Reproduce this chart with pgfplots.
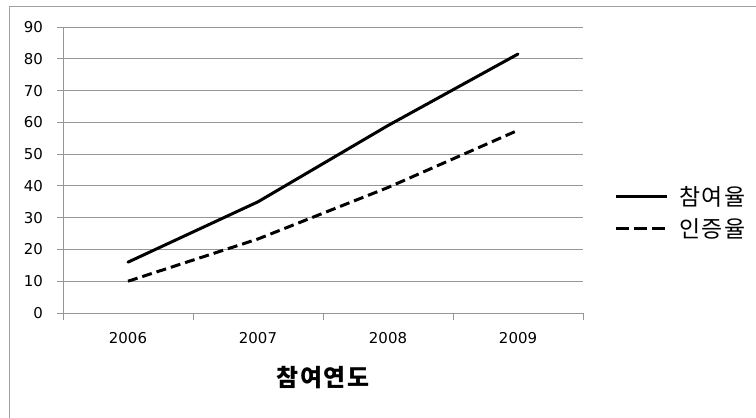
\documentclass[border=0pt]{standalone}
\usepackage{fontspec}
\setmainfont{DejaVu Sans}
\newfontfamily\kr{Noto Sans CJK KR}
\newfontfamily\krlegend[LetterSpace=6]{Noto Sans CJK KR}
\newfontfamily\krlabel[LetterSpace=8]{Noto Sans CJK KR}
\usepackage{pgfplots}
\pgfplotsset{compat=1.18}

\definecolor{gridgray}{RGB}{150,150,150}
\definecolor{framegray}{RGB}{160,160,160}

\begin{document}
\begin{tikzpicture}[x=1bp,y=1bp]
	\useasboundingbox (0,0) rectangle (756,417);
	% outer chart frame (only left and top edges are visible)
	\draw[framegray, line width=1bp] (9,-5) -- (9,410) -- (760,410);
	\begin{axis}[
		at={(63bp,104bp)}, anchor=south west,
		scale only axis,
		width=520bp, height=286bp,
		xmin=-0.5, xmax=3.5,
		ymin=0, ymax=90,
		axis x line=bottom, axis y line=left,
		axis line style={gridgray, line width=0.9bp, -},
		xtick={0,1,2,3},
		xticklabels={2006,2007,2008,2009},
		minor xtick={-0.5,0.5,1.5,2.5,3.5},
		ytick={0,10,...,90},
		tick align=outside,
		major tick length=6bp,
		minor tick length=7bp,
		tick style={gridgray, line width=0.9bp},
		major x tick style={draw=none},
		ymajorgrids=true,
		grid style={gridgray, line width=0.9bp},
		/pgf/number format/assume math mode=true,
		ticklabel style={font=\fontsize{15}{17}\selectfont, inner sep=0pt},
		yticklabel style={xshift=-14bp},
		xticklabel style={yshift=-13bp},
		xlabel={\krlabel\bfseries 참여연도},
		x label style={at={(axis description cs:0.5,-0.227)}, anchor=center,
			font=\fontsize{24}{26}\selectfont},
		legend style={at={(1.06,0.351)}, anchor=west, draw=none, fill=none,
			inner sep=0pt, row sep=12bp,
			font=\fontsize{23}{25}\selectfont\krlegend,
			nodes={inner sep=0pt, anchor=west}},
		legend cell align=left,
		% sample line plus the blank gap before the entry text
		legend image code/.code={\draw[#1] (0bp,0bp) -- (51bp,0bp); \path (62bp,0bp);},
		]
		\addplot[black, line width=3bp, line cap=round, forget plot]
		coordinates {(0,16) (1,35) (2,59) (3,81.5)};
		\addplot[black, line width=3bp, dash pattern=on 10bp off 5bp, forget plot]
		coordinates {(0,10) (1,23.3) (2,39.5) (3,57.5)};
		\addlegendimage{black, line width=3bp}
		\addlegendentry{참여율}
		\addlegendimage{black, line width=3bp, dash pattern=on 13bp off 5bp}
		\addlegendentry{인증율}
	\end{axis}
\end{tikzpicture}
\end{document}
